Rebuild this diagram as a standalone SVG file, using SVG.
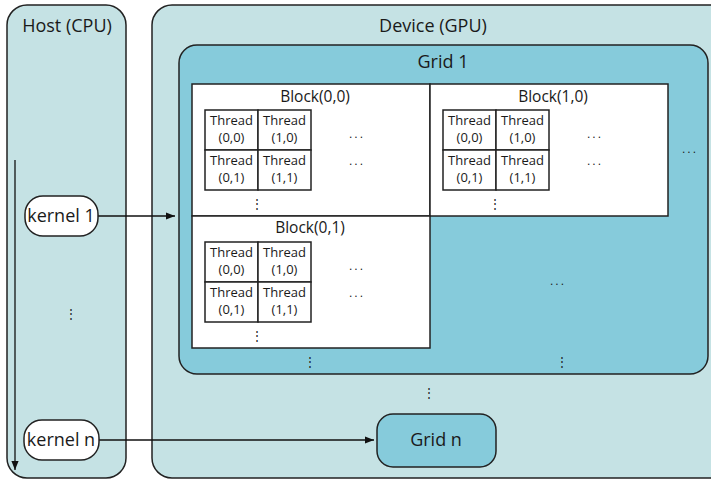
<svg xmlns="http://www.w3.org/2000/svg" width="711" height="480" viewBox="0 0 711 480">
<defs>
<style>
.box{fill:#c5e2e4;stroke:#222;stroke-width:1.5}
.grid{fill:#86cbdb;stroke:#222;stroke-width:1.5}
.blk{fill:#fff;stroke:#222;stroke-width:1.5}
.cell{fill:#fff;stroke:#222;stroke-width:1.5}
.pill{fill:#fff;stroke:#222;stroke-width:1.5}
text{font-family:"Open Sans","Liberation Sans",sans-serif;fill:#1a1a1a;text-anchor:middle}
.t17{font-size:18px}
.t14{font-size:15.5px}
.t12{font-size:13px}
.dots{font-family:"Liberation Sans",sans-serif;font-size:12px;fill:#222}
.hd{letter-spacing:2px}
.conn{stroke:#111;stroke-width:1.3;fill:none}
</style>
<marker id="ah" viewBox="0 0 10 10" refX="10" refY="5" markerWidth="10" markerHeight="9" markerUnits="userSpaceOnUse" orient="auto">
<path d="M0,1 L10,5 L0,9 z" fill="#111"/>
</marker>
<g id="threads">
<rect class="cell" x="0" y="0" width="53" height="40"/>
<rect class="cell" x="53" y="0" width="53" height="40"/>
<rect class="cell" x="0" y="40" width="53" height="40"/>
<rect class="cell" x="53" y="40" width="53" height="40"/>
<text class="t12" x="26.5" y="15">Thread</text>
<text class="t12" x="26.5" y="32">(0,0)</text>
<text class="t12" x="79.5" y="15">Thread</text>
<text class="t12" x="79.5" y="32">(1,0)</text>
<text class="t12" x="26.5" y="55">Thread</text>
<text class="t12" x="26.5" y="72">(0,1)</text>
<text class="t12" x="79.5" y="55">Thread</text>
<text class="t12" x="79.5" y="72">(1,1)</text>
<text class="dots hd" x="152" y="28">...</text>
<text class="dots hd" x="152" y="55">...</text>
<text class="dots" x="52" y="98">⋮</text>
</g>
</defs>
<g id="host">
<rect class="box" x="7" y="5" width="119" height="473" rx="20"/>
<text class="t17" x="67" y="32">Host (CPU)</text>
<text class="dots" x="71" y="318">⋮</text>
</g>
<g id="device">
<rect class="box" x="152" y="5" width="580" height="473" rx="20"/>
<text class="t17" x="433" y="32">Device (GPU)</text>
<text class="dots" x="429" y="397">⋮</text>
</g>
<g id="grid1">
<rect class="grid" x="179" y="45" width="529" height="329" rx="18"/>
<text class="t17" x="443" y="68">Grid 1</text>
<text class="dots hd" x="690" y="153">...</text>
<text class="dots hd" x="558" y="285">...</text>
<text class="dots" x="310" y="366">⋮</text>
<text class="dots" x="562" y="366">⋮</text>
</g>
<g id="block00">
<rect class="blk" x="192" y="84" width="238" height="132"/>
<text class="t14" x="315" y="102">Block(0,0)</text>
<use href="#threads" x="205" y="110"/>
</g>
<g id="block10">
<rect class="blk" x="430" y="84" width="238" height="132"/>
<text class="t14" x="553" y="102">Block(1,0)</text>
<use href="#threads" x="443" y="110"/>
</g>
<g id="block01">
<rect class="blk" x="192" y="216" width="238" height="132"/>
<text class="t14" x="310" y="233">Block(0,1)</text>
<use href="#threads" x="205" y="242"/>
</g>
<g id="gridn">
<rect class="grid" x="377" y="414" width="119" height="53" rx="16"/>
<text class="t17" x="436" y="446">Grid n</text>
</g>
<g id="connectors">
<line class="conn" x1="15" y1="160" x2="15" y2="470" marker-end="url(#ah)"/>
<line class="conn" x1="97" y1="216" x2="175" y2="216" marker-end="url(#ah)"/>
<line class="conn" x1="98" y1="440" x2="374" y2="440" marker-end="url(#ah)"/>
</g>
<g id="kernel1">
<rect class="pill" x="25" y="196" width="73" height="40" rx="18"/>
<text class="t17" x="61" y="222">kernel 1</text>
</g>
<g id="kerneln">
<rect class="pill" x="24" y="420" width="75" height="40" rx="18"/>
<text class="t17" x="61" y="446">kernel n</text>
</g>
</svg>
